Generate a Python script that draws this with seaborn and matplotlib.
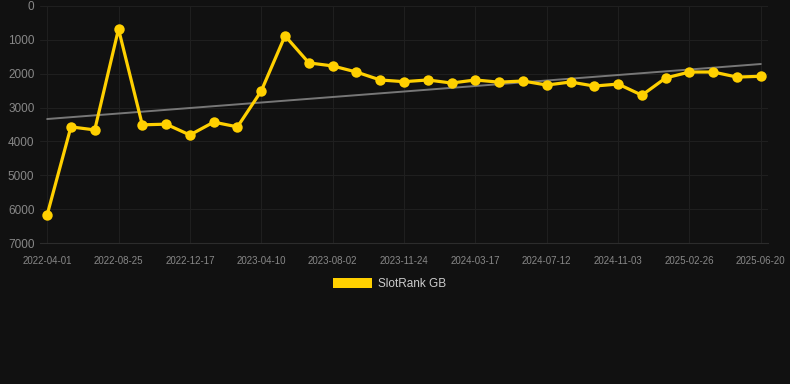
import numpy as np
import pandas as pd
import matplotlib
matplotlib.use("Agg")
import matplotlib.pyplot as plt
import seaborn as sns
from matplotlib.patches import Patch

dates = ["2022-04-01", "2022-05-15", "2022-07-10", "2022-08-25", "2022-10-01",
         "2022-11-10", "2022-12-17", "2023-01-25", "2023-03-05", "2023-04-10",
         "2023-05-20", "2023-06-25", "2023-08-02", "2023-09-10", "2023-10-18",
         "2023-11-24", "2024-01-01", "2024-02-08", "2024-03-17", "2024-04-25",
         "2024-06-03", "2024-07-12", "2024-08-20", "2024-09-26", "2024-11-03",
         "2024-12-10", "2025-01-18", "2025-02-26", "2025-04-05", "2025-05-12",
         "2025-06-20"]
rank = [6170, 3570, 3660, 680, 3510, 3490, 3810, 3430, 3570, 2510,
        880, 1680, 1770, 1950, 2185, 2235, 2185, 2275, 2185, 2250,
        2215, 2335, 2245, 2365, 2305, 2635, 2125, 1950, 1950, 2100,
        2075]
series_name = "SlotRank GB"
yticks = [0, 1000, 2000, 3000, 4000, 5000, 6000, 7000]

df = pd.DataFrame({"idx": np.arange(len(dates)), "date": dates, "rank": rank})

sns.set_theme(style="dark")
plt.rcParams['font.family'] = ['Liberation Sans', 'DejaVu Sans']

bg = "#111111"
fig = plt.figure(figsize=(7.9, 3.84), dpi=100, facecolor=bg)
ax = fig.add_axes([40/790, 1-243/384, 728/790, 237/384])
ax.set_facecolor(bg)

sns.lineplot(data=df, x="idx", y="rank", ax=ax, color="#ffd000", linewidth=2.3,
             marker="o", markersize=7.5, markeredgewidth=0, label=series_name,
             legend=False, zorder=3)

# trend line (linear fit)
coef = np.polyfit(df["idx"], df["rank"], 1)
ax.plot(df["idx"], np.polyval(coef, df["idx"]), color="#777777", linewidth=1.4, zorder=2)

ax.set_xlim(-0.3, len(dates) - 1 + 0.3)
ax.set_ylim(7000, 0)
ax.set_yticks(yticks)
ax.set_yticklabels([str(v) for v in yticks])
tick_pos = list(range(0, len(dates), 3))
ax.set_xticks(tick_pos)
ax.set_xticklabels([dates[i] for i in tick_pos])
ax.tick_params(axis="x", colors="#888888", labelsize=7, length=0, pad=9)
ax.tick_params(axis="y", colors="#888888", labelsize=8.5, length=0, pad=4)
ax.grid(True, color="#1f1f1f", linewidth=0.8)
ax.set_xlabel("")
ax.set_ylabel("")
for s in ["top", "right", "left"]:
    ax.spines[s].set_visible(False)
ax.spines["bottom"].set_color("#2c2c2c")
ax.spines["bottom"].set_linewidth(0.8)

leg = fig.legend(handles=[Patch(facecolor="#ffd000", edgecolor="none", label=series_name)],
                 loc="center", bbox_to_anchor=(0.493, 1-284/384), frameon=False,
                 fontsize=8.5, handlelength=3.3, handleheight=1.0, handletextpad=0.5)
for t in leg.get_texts():
    t.set_color("#cccccc")

fig.savefig("out.png", dpi=100, facecolor=bg)
